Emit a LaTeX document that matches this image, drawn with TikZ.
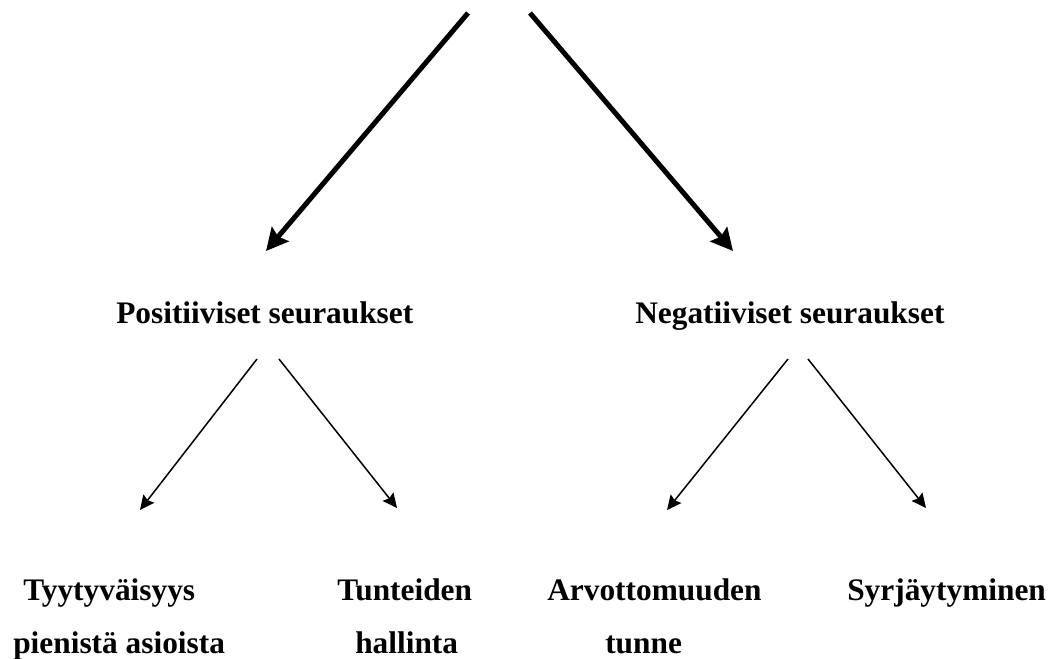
\documentclass[tikz,border=0pt]{standalone}
\usepackage{fontspec}
\setmainfont{Liberation Serif}
\usetikzlibrary{arrows.meta}
\tikzset{
  teksti/.style={font=\fontsize{22.3}{26}\selectfont\bfseries, inner sep=0pt, anchor=base west},
  paanuoli/.style={line width=0.125cm, -{Stealth[length=0.55cm, width=0.55cm, inset=0.08cm]}},
  nuoli/.style={line width=0.0375cm, -{Stealth[length=0.36cm, width=0.34cm, inset=0.05cm]}}
}
\begin{document}
\begin{tikzpicture}[x=0.025cm, y=-0.025cm]
  \useasboundingbox (0,0) rectangle (1056,658);
  % paanuolten alkupisteet ylhaalla
  \coordinate (yla1) at (468,13);
  \coordinate (yla2) at (530,13);
  \coordinate (pos-in) at (266,251);
  \coordinate (neg-in) at (733,251);
  % seuraukset
  \node[teksti] (pos) at (116,323) {Positiiviset seuraukset};
  \node[teksti] (neg) at (635,323) {Negatiiviset seuraukset};
  \coordinate (pos-v) at (257,359);
  \coordinate (pos-o) at (279,359);
  \coordinate (neg-v) at (788,359);
  \coordinate (neg-o) at (808,359);
  % alimmat
  \node[teksti] (tyy1) at (23,600) {Tyytyväisyys};
  \node[teksti] (tyy2) at (13,653) {pienistä asioista};
  \node[teksti] (tun1) at (337,600) {Tunteiden};
  \node[teksti] (tun2) at (355,653) {hallinta};
  \node[teksti] (arv1) at (547,600) {Arvottomuuden};
  \node[teksti] (arv2) at (605,653) {tunne};
  \node[teksti] (syr) at (847,600) {Syrjäytyminen};
  \coordinate (tyy-in) at (140,510);
  \coordinate (tun-in) at (397,508);
  \coordinate (arv-in) at (667,510);
  \coordinate (syr-in) at (926,508);
  % nuolet
  \draw[paanuoli] (yla1) -- (pos-in);
  \draw[paanuoli] (yla2) -- (neg-in);
  \draw[nuoli] (pos-v) -- (tyy-in);
  \draw[nuoli] (pos-o) -- (tun-in);
  \draw[nuoli] (neg-v) -- (arv-in);
  \draw[nuoli] (neg-o) -- (syr-in);
\end{tikzpicture}
\end{document}
